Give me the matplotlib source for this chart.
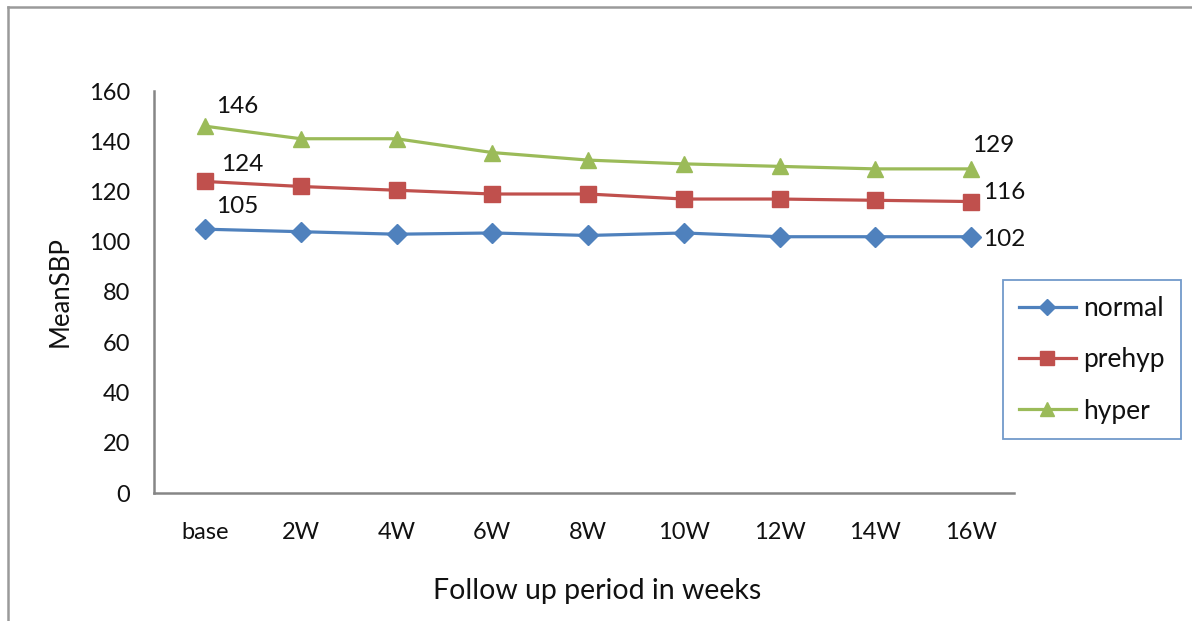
import matplotlib
matplotlib.use("Agg")
import matplotlib.pyplot as plt
from matplotlib.lines import Line2D

plt.rcParams['font.family'] = ['Lato', 'DejaVu Sans']

categories = ["base", "2W", "4W", "6W", "8W", "10W", "12W", "14W", "16W"]
normal = [105, 104, 103, 103.5, 102.5, 103.5, 102, 102, 102]
prehyp = [124, 122, 120.5, 119, 119, 117, 117, 116.5, 116]
hyper = [146, 141, 141, 135.5, 132.5, 131, 130, 129, 129]
yticks = [0, 20, 40, 60, 80, 100, 120, 140, 160]

W, H = 1192, 621
fig = plt.figure(figsize=(W / 100, H / 100), dpi=100)
ax = fig.add_axes([154 / W, 1 - 493 / H, 860 / W, (493 - 91) / H])

x = list(range(len(categories)))
c_blue, c_red, c_green = "#4F81BD", "#C0504D", "#9BBB59"
ax.plot(x, normal, color=c_blue, lw=2.3, marker="D", ms=10, label="normal")
ax.plot(x, prehyp, color=c_red, lw=2.3, marker="s", ms=12, label="prehyp")
ax.plot(x, hyper, color=c_green, lw=2.3, marker="^", ms=12, label="hyper")

ax.set_xlim(-0.533, 8.449)
ax.set_ylim(0, 160)
ax.set_xticks(x)
ax.set_xticklabels(categories)
ax.set_yticks(yticks)
ax.tick_params(axis="both", length=0, labelsize=17, colors="#111111")
ax.tick_params(axis="x", pad=21)
ax.tick_params(axis="y", pad=17)
for s in ["top", "right"]:
    ax.spines[s].set_visible(False)
for s in ["left", "bottom"]:
    ax.spines[s].set_color("#868686")
    ax.spines[s].set_linewidth(1.8)

ax.set_xlabel("Follow up period in weeks", fontsize=20.5, labelpad=25, color="#111111")
ax.xaxis.label.set_x((597 - 154) / 860)
ax.set_ylabel("MeanSBP", fontsize=18.5, labelpad=12, color="#111111")

# data labels
lab = dict(fontsize=17.5, color="#111111", textcoords="offset points", va="center")
ax.annotate(f"{hyper[0]:.0f}", (0, hyper[0]), xytext=(8, 14), **lab)
ax.annotate(f"{prehyp[0]:.0f}", (0, prehyp[0]), xytext=(11.5, 12.5), **lab)
ax.annotate(f"{normal[0]:.0f}", (0, normal[0]), xytext=(8, 16.5), **lab)
ax.annotate(f"{hyper[-1]:.0f}", (8, hyper[-1]), xytext=(0.7, 16.5), **lab)
ax.annotate(f"{prehyp[-1]:.0f}", (8, prehyp[-1]), xytext=(8.6, 6.5), **lab)
ax.annotate(f"{normal[-1]:.0f}", (8, normal[-1]), xytext=(8.6, -2), **lab)

leg = ax.legend(loc="upper left", bbox_to_anchor=(1003 / W, 1 - 280 / H),
                bbox_transform=fig.transFigure, fontsize=19, frameon=True,
                fancybox=False, edgecolor=c_blue, handlelength=2.15,
                labelspacing=1.0, borderpad=0.6, handletextpad=0.3,
                markerscale=0.85, borderaxespad=0)
leg.get_frame().set_linewidth(1.3)
for t in leg.get_texts():
    t.set_color("#111111")

fig.add_artist(Line2D([8 / W, 1], [1 - 7 / H, 1 - 7 / H], color="#9a9a9a", lw=1.8,
                      transform=fig.transFigure))
fig.add_artist(Line2D([8 / W, 8 / W], [0, 1 - 7 / H], color="#9a9a9a", lw=1.8,
                      transform=fig.transFigure))

fig.savefig("out.png", dpi=100)
